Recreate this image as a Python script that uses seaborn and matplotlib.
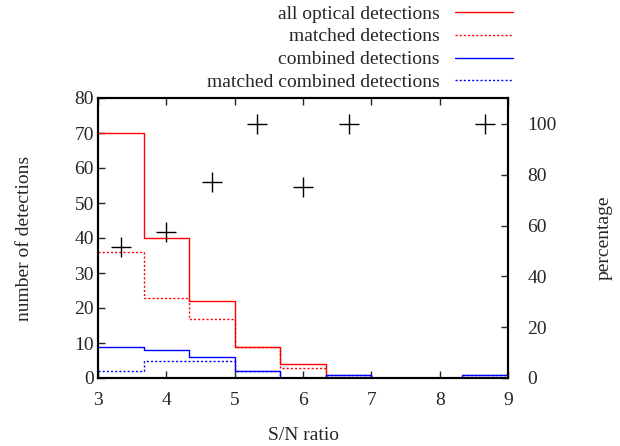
import numpy as np
import pandas as pd
import matplotlib
matplotlib.use("Agg")
import matplotlib.pyplot as plt
import seaborn as sns

# ---- data ----
bin_edges = [3.0, 3.6667, 4.3333, 5.0, 5.6667, 6.3333, 7.0, 7.6667, 8.3333, 9.0]
all_optical = [70, 40, 22, 9, 4, 0, 0, 0, 0]
matched = [36, 23, 17, 9, 3, 0, 0, 0, 0]
combined = [9, 8, 6, 2, 0, 1, 0, 0, 1]
matched_combined = [2, 5, 5, 2, 0, 1, 0, 0, 1]
pct_x = [3.3333, 4.0, 4.6667, 5.3333, 6.0, 6.6667, 8.6667]
pct_y = [51.4, 57.5, 77.3, 100, 75, 100, 100]

labels = ["all optical detections", "matched detections",
          "combined detections", "matched combined detections"]

FS = 14
sns.set_theme(style="ticks")
plt.rcParams["font.family"] = ["Liberation Serif", "DejaVu Serif"]
plt.rcParams["font.size"] = FS

fig = plt.figure(figsize=(6.2, 4.46), dpi=100)
ax = fig.add_axes([98 / 620, 68 / 446, 410 / 620, 280 / 446])

def step_df(vals):
    return pd.DataFrame({"x": bin_edges, "y": list(vals) + [vals[-1]]})

series = [
    (all_optical, "#ff0000", "-"),
    (matched, "#ff0000", (0, (1.5, 1.5))),
    (combined, "#0000ff", "-"),
    (matched_combined, "#0000ff", (0, (1.5, 1.5))),
]
handles = []
for (vals, col, ls), lab in zip(series, labels):
    d = step_df(vals)
    sns.lineplot(data=d, x="x", y="y", ax=ax, color=col, linestyle=ls,
                 linewidth=1.0, drawstyle="steps-post", estimator=None,
                 label=lab, legend=False, sort=False)
    handles.append(ax.lines[-1])

ax.set_xlim(3, 9)
ax.set_ylim(0, 80)
ax.set_xticks(range(3, 10))
ax.set_yticks(range(0, 81, 10))
ax.set_xlabel("S/N ratio", fontsize=FS, labelpad=13)
ax.set_ylabel("number of detections", fontsize=FS, labelpad=30)
ax.tick_params(axis="y", direction="in", length=5, width=1, labelsize=FS,
               right=False, pad=3)
ax.tick_params(axis="x", direction="in", length=5, width=1, labelsize=FS,
               top=True, pad=10)

ax2 = ax.twinx()
pdf = pd.DataFrame({"x": pct_x, "y": pct_y})
sns.scatterplot(data=pdf, x="x", y="y", ax=ax2, marker="+", s=190,
                color="black", linewidth=1.0, legend=False)
ax2.set_ylim(0, 110.2)
ax2.set_yticks(range(0, 101, 20))
ax2.set_ylabel("percentage", fontsize=FS, labelpad=28)
ax2.tick_params(axis="y", direction="in", length=5, width=1, labelsize=FS, pad=14)
ax2.set_xlim(3, 9)

for a in (ax, ax2):
    for sp in a.spines.values():
        sp.set_linewidth(1.5)
        sp.set_color("black")
        sp.set_visible(True)

leg = fig.legend(handles=handles, labels=labels, loc="upper right",
                 bbox_to_anchor=(513 / 620, 1 - 5 / 446), frameon=False,
                 markerfirst=False, handlelength=3.0, labelspacing=0.27,
                 borderpad=0.0, borderaxespad=0.0, handletextpad=0.77,
                 fontsize=FS)

fig.savefig("out.png", dpi=100)
